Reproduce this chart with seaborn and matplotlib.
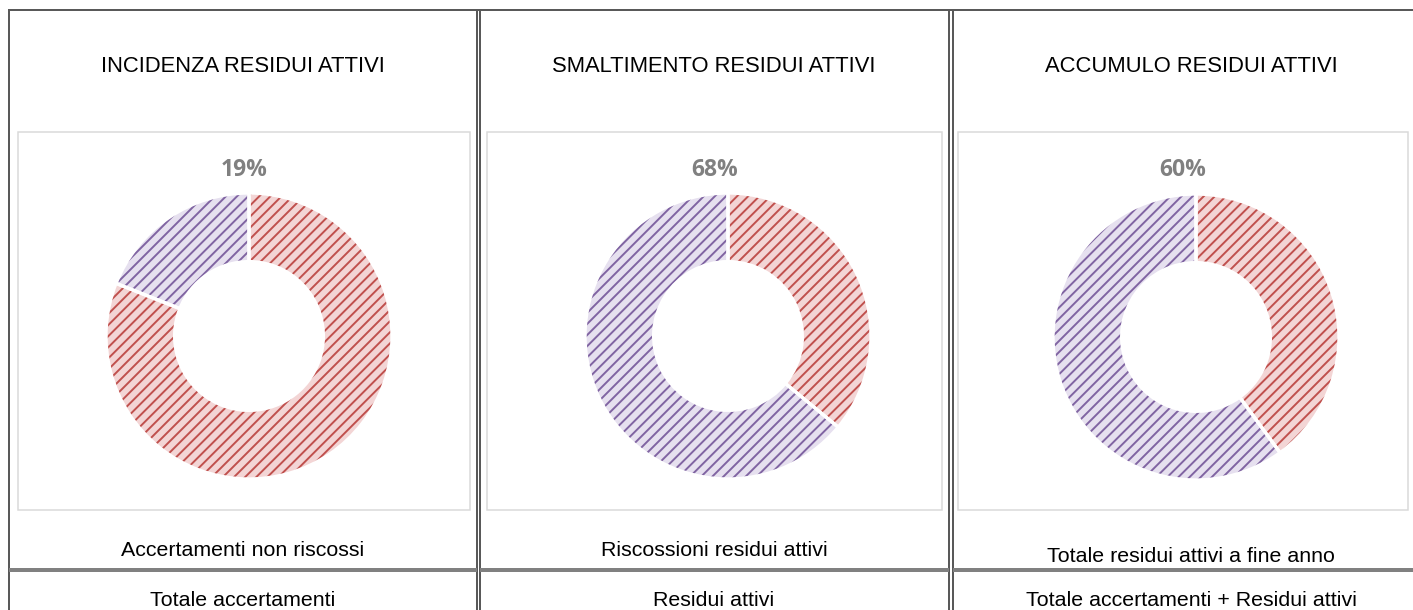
import matplotlib
matplotlib.use("Agg")
import matplotlib.pyplot as plt
import seaborn as sns
from matplotlib.patches import Rectangle

# --- data ---
titles = ["INCIDENZA RESIDUI ATTIVI", "SMALTIMENTO RESIDUI ATTIVI", "ACCUMULO RESIDUI ATTIVI"]
pct_labels = ["19%", "68%", "60%"]
red_share = [81, 36, 40]
purple_share = [19, 64, 60]
numerators = ["Accertamenti non riscossi", "Riscossioni residui attivi",
              "Totale residui attivi a fine anno"]
denominators = ["Totale accertamenti", "Residui attivi",
                "Totale accertamenti + Residui attivi"]

sns.set_theme(style="white")
plt.rcParams['font.family'] = ['Liberation Sans', 'DejaVu Sans']
plt.rcParams['hatch.linewidth'] = 1.4

W, H = 1413, 610
fig = plt.figure(figsize=(W / 100, H / 100), dpi=100)

# background axes in pixel coordinates for the table grid
bg = fig.add_axes([0, 0, 1, 1])
bg.set_xlim(0, W)
bg.set_ylim(H, 0)
bg.axis("off")

dark = "#595959"
px = 0.72  # one pixel in points
bg.plot([8, W], [10, 10], color=dark, lw=2 * px, solid_capstyle="butt")
bg.plot([9, 9], [10, H], color=dark, lw=2 * px, solid_capstyle="butt")
for x in [477, 480.3, 949, 952.5]:
    bg.plot([x, x], [10, H], color=dark, lw=2 * px, solid_capstyle="butt")
for x0, x1 in [(9, 477), (480.3, 949), (952.5, W)]:
    bg.plot([x0, x1], [570, 570], color="#808080", lw=4 * px, solid_capstyle="butt")

cell_cx = [243, 714, 1191]
box_x = [(18, 470), (487, 942), (958, 1408)]
donut_c = [(249, 336), (728, 336), (1196, 337)]
R_px = 143
reds = ("#f3d5d5", "#c0504d")
purples = ("#e6e0ef", "#8064a2")

for i in range(3):
    bx0, bx1 = box_x[i]
    bg.add_patch(Rectangle((bx0, 132), bx1 - bx0, 378, fill=False,
                           edgecolor="#d9d9d9", lw=1.5 * px))
    bg.text(cell_cx[i], 66, titles[i], ha="center", va="center",
            fontsize=15.8, color="black")
    bg.text((bx0 + bx1) / 2, 170, pct_labels[i], ha="center", va="center",
            fontsize=16.5, fontweight="bold", color="#808080",
            family=["Open Sans", "DejaVu Sans"])
    y_num = 557 if i == 2 else 550
    bg.text(cell_cx[i], y_num, numerators[i], ha="center", va="center",
            fontsize=15.4, color="black")
    bg.text(cell_cx[i], 600, denominators[i], ha="center", va="center",
            fontsize=15.4, color="black")

    cx, cy = donut_c[i]
    half = 150
    ax = fig.add_axes([(cx - half) / W, 1 - (cy + half) / H, 2 * half / W, 2 * half / H])
    vals = [red_share[i], purple_share[i]]
    wedges, _ = ax.pie(vals, startangle=90, counterclock=False,
                       wedgeprops=dict(width=0.48, linewidth=0))
    for w, (fc, hc) in zip(wedges, [reds, purples]):
        w.set_facecolor(fc)
        w.set_edgecolor(hc)
        w.set_hatch("///")
    # white separators
    ax.pie(vals, startangle=90, counterclock=False,
           wedgeprops=dict(width=0.48, facecolor="none", edgecolor="white", linewidth=2.4))
    lim = half / R_px
    ax.set_xlim(-lim, lim)
    ax.set_ylim(-lim, lim)
    ax.axis("off")

fig.savefig("out.png", dpi=100)
